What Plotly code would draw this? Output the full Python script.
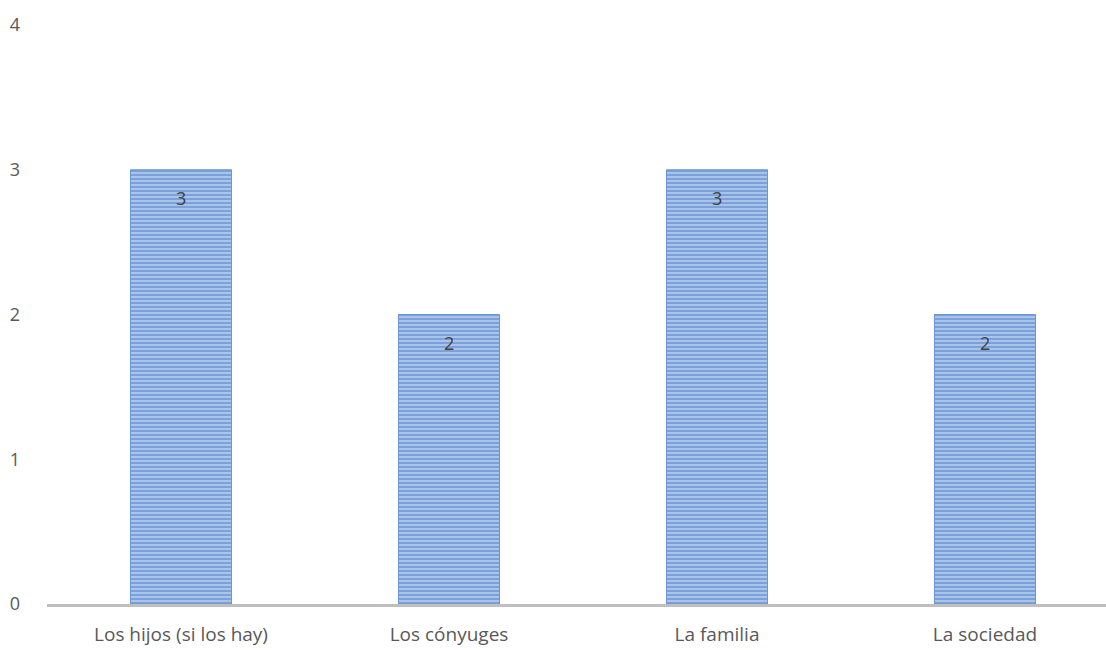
import plotly.graph_objects as go

categories = ["Los hijos (si los hay)", "Los cónyuges", "La familia", "La sociedad"]
values = [3, 2, 3, 2]
y_ticks = [0, 1, 2, 3, 4]

W, H = 1106, 650
left, right, top, bottom = 47, 0, 25, 46
slot_px = 268
plot_w = W - left - right
FONT = "Open Sans, Liberation Sans, sans-serif"

fig = go.Figure()
fig.add_trace(go.Bar(
    x=categories,
    y=values,
    marker=dict(
        color="#a9c3ea",
        line=dict(width=1, color="#6a95d4"),
        pattern=dict(shape="-", fgcolor="#4a7bc6", bgcolor="#aec7ec", size=4, solidity=0.55),
    ),
    width=0.377,
    hoverinfo="skip",
))

# value labels just inside the top of each bar
for c, v in zip(categories, values):
    fig.add_annotation(x=c, y=v, text=str(v), showarrow=False, yshift=-28,
                       font=dict(family=FONT, size=18, color="#404040"))

fig.update_layout(
    width=W, height=H,
    margin=dict(l=left, r=right, t=top, b=bottom),
    paper_bgcolor="white", plot_bgcolor="white",
    showlegend=False,
    font=dict(family=FONT, size=18, color="#595959"),
)
fig.update_xaxes(
    range=[-0.5, -0.5 + plot_w / slot_px],
    showline=True, linecolor="#bfbfbf", linewidth=2.5,
    showgrid=False, ticks="", tickfont=dict(family=FONT, size=19, color="#595959"),
    ticklabelstandoff=11,
)
fig.update_yaxes(
    range=[0, 4], tickvals=y_ticks, showgrid=False, zeroline=False,
    showline=False, ticks="", tickfont=dict(family=FONT, size=18, color="#595959"),
    ticklabelstandoff=26,
)

fig.write_html("out.html")
